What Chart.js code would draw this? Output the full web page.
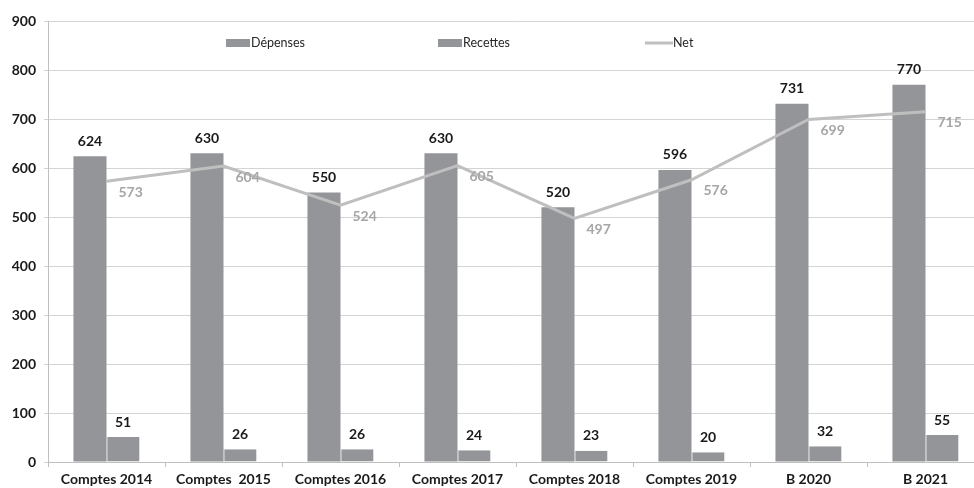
<!DOCTYPE html>
<html>
<head>
<meta charset="utf-8">
<script src="https://cdn.jsdelivr.net/npm/chart.js@4.4.0/dist/chart.umd.min.js"></script>
<style>
  html, body { margin: 0; padding: 0; background: #fff; overflow: hidden; }
  #wrap { position: relative; width: 1000px; height: 488px; }
</style>
</head>
<body>
<div id="wrap"><canvas id="chart"></canvas></div>
<script>
// Data
const categories = ['Comptes 2014', 'Comptes  2015', 'Comptes 2016', 'Comptes 2017',
  'Comptes 2018', 'Comptes 2019', 'B 2020', 'B 2021'];
const depenses = [624, 630, 550, 630, 520, 596, 731, 770];
const recettes = [51, 26, 26, 24, 23, 20, 32, 55];
const net = [573, 604, 524, 605, 497, 576, 699, 715];
const yTicks = [0, 100, 200, 300, 400, 500, 600, 700, 800, 900];

const FONT = 'Lato, "Open Sans", sans-serif';
const BAR_GREY = '#939598';
const LINE_GREY = '#bfbfbf';

// value labels above bars and beside the line points
const valueLabels = {
  id: 'valueLabels',
  afterDatasetsDraw(chart) {
    const ctx = chart.ctx;
    ctx.save();
    ctx.font = 'bold 14px ' + FONT;
    chart.data.datasets.forEach(function(ds, i) {
      const meta = chart.getDatasetMeta(i);
      meta.data.forEach(function(el, j) {
        const v = ds.data[j];
        if (ds.type === 'line') {
          ctx.fillStyle = '#a6a6a6';
          ctx.textAlign = 'left';
          ctx.textBaseline = 'middle';
          ctx.fillText(v, el.x + 12, el.y + 11);
        } else {
          ctx.fillStyle = '#1a1a1a';
          ctx.textAlign = 'center';
          ctx.textBaseline = 'middle';
          ctx.fillText(v, el.x, el.y - 15);
        }
      });
    });
    ctx.restore();
  }
};

// legend drawn inside the plot area like the original
const insideLegend = {
  id: 'insideLegend',
  afterDraw(chart) {
    const ctx = chart.ctx;
    const xs = [226, 438, 645];
    const y = 43;
    ctx.save();
    ctx.font = '12.5px ' + FONT;
    ctx.textBaseline = 'middle';
    ctx.textAlign = 'left';
    chart.data.datasets.forEach(function(ds, i) {
      const x = xs[i];
      if (ds.type === 'line') {
        ctx.strokeStyle = ds.borderColor;
        ctx.lineWidth = 3;
        ctx.beginPath();
        ctx.moveTo(x, y);
        ctx.lineTo(x + 28, y);
        ctx.stroke();
        ctx.fillStyle = '#262626';
        ctx.fillText(ds.label, x + 28, y);
      } else {
        ctx.fillStyle = ds.backgroundColor;
        ctx.fillRect(x, y - 4, 24, 8);
        ctx.fillStyle = '#262626';
        ctx.fillText(ds.label, x + 25, y);
      }
    });
    ctx.restore();
  }
};

new Chart(document.getElementById('chart'), {
  data: {
    labels: categories,
    datasets: [
      {
        type: 'bar',
        label: 'Dépenses',
        data: depenses,
        backgroundColor: BAR_GREY,
        barPercentage: 1,
        categoryPercentage: 0.565,
        order: 1
      },
      {
        type: 'bar',
        label: 'Recettes',
        data: recettes,
        backgroundColor: BAR_GREY,
        borderColor: '#c8c8ca',
        borderWidth: { left: 1 },
        barPercentage: 1,
        categoryPercentage: 0.565,
        order: 1
      },
      {
        type: 'line',
        label: 'Net',
        data: net,
        borderColor: LINE_GREY,
        borderWidth: 3,
        pointRadius: 0,
        tension: 0,
        order: 0
      }
    ]
  },
  options: {
    responsive: true,
    maintainAspectRatio: false,
    animation: false,
    layout: { padding: { top: 21, right: 16, left: 0, bottom: 0 } },
    plugins: {
      legend: { display: false },
      tooltip: { enabled: false }
    },
    scales: {
      x: {
        grid: {
          offset: true,
          drawOnChartArea: false,
          drawTicks: true,
          tickLength: 5,
          color: '#bfbfbf'
        },
        border: { color: '#bfbfbf' },
        ticks: {
          padding: 4,
          color: '#1a1a1a',
          font: { family: FONT, size: 14, weight: 'bold' },
          maxRotation: 0,
          autoSkip: false
        },
        afterFit(scale) { scale.height = 26; }
      },
      y: {
        min: 0,
        max: 900,
        afterBuildTicks(scale) {
          scale.ticks = yTicks.map(function(v) { return { value: v }; });
        },
        grid: {
          color: '#d4d4d4',
          tickLength: 4
        },
        border: { color: '#bfbfbf' },
        ticks: {
          padding: 8,
          color: '#1a1a1a',
          font: { family: FONT, size: 14, weight: 'bold' }
        },
        afterFit(scale) { scale.width = 48; }
      }
    }
  },
  plugins: [valueLabels, insideLegend]
});
</script>
</body>
</html>
